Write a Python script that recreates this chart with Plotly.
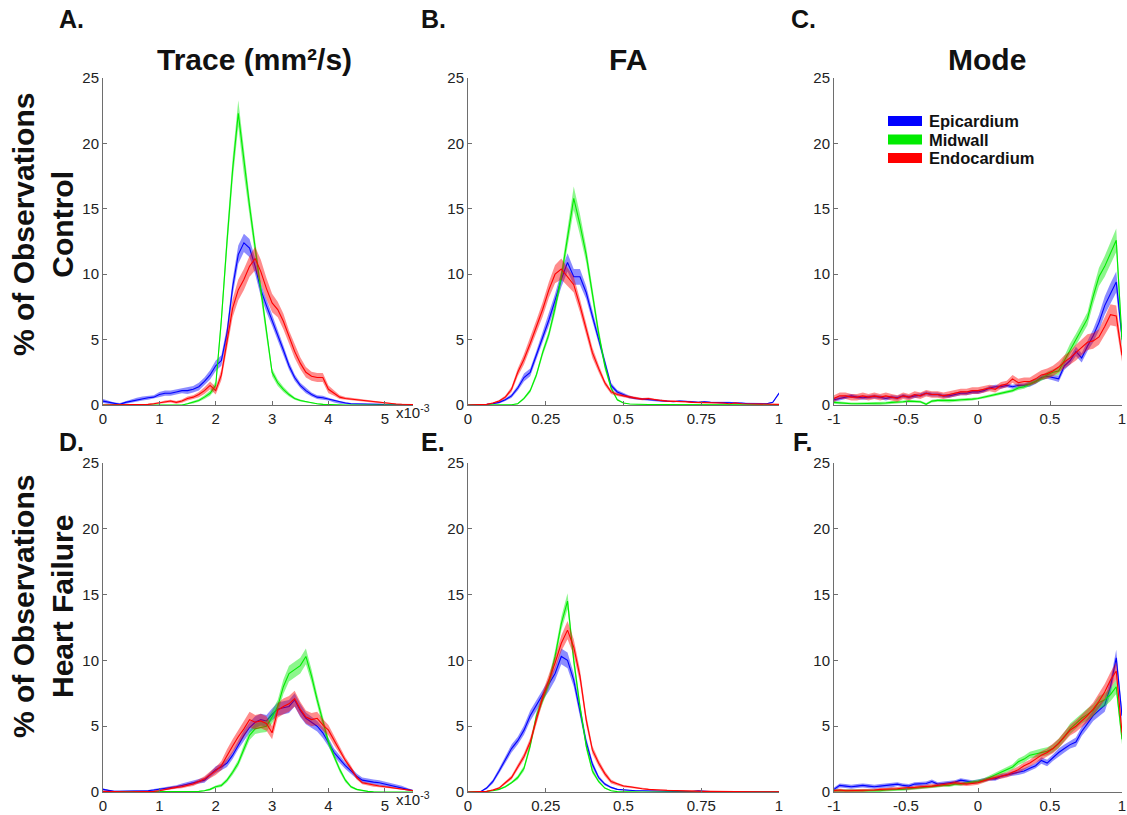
import numpy as np
import plotly.graph_objects as go

# ---------------- data ----------------
trace_bins = [0.0, 0.1, 0.2, 0.3, 0.4, 0.5, 0.6, 0.7, 0.8, 0.9,
              1.0, 1.1, 1.2, 1.3, 1.4, 1.5, 1.6, 1.7, 1.8, 1.9,
              2.0, 2.1, 2.2, 2.3, 2.4, 2.5, 2.6, 2.7, 2.8, 2.9,
              3.0, 3.1, 3.2, 3.3, 3.4, 3.5, 3.6, 3.7, 3.8, 3.9,
              4.0, 4.1, 4.2, 4.3, 4.4, 4.5, 4.6, 4.7, 4.8, 4.9,
              5.0, 5.1, 5.2, 5.3, 5.4, 5.5]  # x10^-3 mm^2/s
fa_bins = [0.00, 0.02, 0.04, 0.06, 0.08, 0.10, 0.12, 0.14, 0.16, 0.18,
           0.20, 0.22, 0.24, 0.26, 0.28, 0.30, 0.32, 0.34, 0.36, 0.38,
           0.40, 0.42, 0.44, 0.46, 0.48, 0.50, 0.52, 0.54, 0.56, 0.58,
           0.60, 0.62, 0.64, 0.66, 0.68, 0.70, 0.72, 0.74, 0.76, 0.78,
           0.80, 0.82, 0.84, 0.86, 0.88, 0.90, 0.92, 0.94, 0.96, 0.98, 1.00]
mode_bins = [-1.00, -0.96, -0.92, -0.88, -0.84, -0.80, -0.76, -0.72, -0.68, -0.64,
             -0.60, -0.56, -0.52, -0.48, -0.44, -0.40, -0.36, -0.32, -0.28, -0.24,
             -0.20, -0.16, -0.12, -0.08, -0.04, 0.00, 0.04, 0.08, 0.12, 0.16,
             0.20, 0.24, 0.28, 0.32, 0.36, 0.40, 0.44, 0.48, 0.52, 0.56,
             0.60, 0.64, 0.68, 0.72, 0.76, 0.80, 0.84, 0.88, 0.92, 0.96, 1.00]

# Panel A: Control, Trace
ctrl_trace_epi = [0.3, 0.2, 0.1, 0.05, 0.2, 0.3, 0.4, 0.5, 0.55, 0.6,
                  0.8, 0.9, 0.9, 1.0, 1.1, 1.1, 1.2, 1.4, 1.8, 2.3,
                  3.0, 3.4, 5.5, 9.0, 11.5, 12.4, 12.0, 10.6, 8.8, 7.6,
                  6.5, 5.4, 4.2, 3.0, 2.1, 1.5, 1.1, 0.8, 0.6, 0.55,
                  0.45, 0.3, 0.2, 0.15, 0.1, 0.1, 0.05, 0.05, 0.05, 0.05,
                  0.03, 0.02, 0.02, 0.01, 0.01, 0.0]
ctrl_trace_epi_se = [0.15, 0.1, 0.1, 0.1, 0.1, 0.15, 0.15, 0.15, 0.15, 0.15,
                     0.2, 0.2, 0.2, 0.2, 0.2, 0.25, 0.25, 0.3, 0.3, 0.35,
                     0.4, 0.4, 0.5, 0.6, 0.7, 0.7, 0.7, 0.6, 0.5, 0.5,
                     0.45, 0.4, 0.35, 0.3, 0.25, 0.2, 0.2, 0.15, 0.15, 0.15,
                     0.1, 0.1, 0.1, 0.08, 0.06, 0.05, 0.05, 0.05, 0.05, 0.05,
                     0.04, 0.03, 0.03, 0.02, 0.02, 0.02]
ctrl_trace_mid = [0, 0, 0, 0, 0, 0, 0, 0, 0, 0,
                  0, 0, 0, 0, 0, 0.1, 0.2, 0.35, 0.6, 0.9,
                  1.5, 6.5, 12.5, 18.0, 22.3, 18.5, 15.2, 12.0, 8.8, 5.5,
                  2.5, 1.7, 1.2, 0.8, 0.5, 0.35, 0.25, 0.15, 0.1, 0.05,
                  0.03, 0, 0, 0, 0, 0, 0, 0, 0, 0,
                  0, 0, 0, 0, 0, 0]
ctrl_trace_mid_se = [0.01, 0.01, 0.01, 0.01, 0.01, 0.01, 0.01, 0.01, 0.01, 0.01,
                     0.01, 0.01, 0.01, 0.01, 0.01, 0.05, 0.08, 0.1, 0.15, 0.2,
                     0.3, 0.6, 0.8, 0.9, 1.0, 0.9, 0.7, 0.6, 0.5, 0.4,
                     0.3, 0.25, 0.2, 0.15, 0.1, 0.08, 0.06, 0.05, 0.04, 0.03,
                     0.02, 0.01, 0.01, 0.01, 0.01, 0.01, 0.01, 0.01, 0.01, 0.01,
                     0.01, 0.01, 0.01, 0.01, 0.01, 0.01]
ctrl_trace_endo = [0, 0, 0, 0, 0, 0, 0, 0.02, 0.05, 0.1,
                   0.15, 0.25, 0.3, 0.2, 0.3, 0.5, 0.6, 0.8, 1.1, 1.5,
                   1.1, 2.3, 5.0, 7.4, 8.8, 9.6, 10.6, 11.2, 10.2, 8.9,
                   7.8, 7.3, 6.4, 5.2, 4.1, 3.2, 2.5, 2.2, 2.1, 2.1,
                   1.2, 0.9, 0.6, 0.5, 0.45, 0.4, 0.35, 0.3, 0.25, 0.2,
                   0.15, 0.1, 0.08, 0.06, 0.05, 0.04]
ctrl_trace_endo_se = [0.02, 0.02, 0.02, 0.02, 0.02, 0.02, 0.02, 0.03, 0.05, 0.06,
                      0.08, 0.1, 0.1, 0.1, 0.12, 0.15, 0.15, 0.2, 0.25, 0.3,
                      0.3, 0.4, 0.6, 0.7, 0.8, 0.8, 0.8, 0.9, 0.9, 0.8,
                      0.7, 0.6, 0.6, 0.5, 0.5, 0.45, 0.4, 0.35, 0.35, 0.35,
                      0.3, 0.2, 0.15, 0.12, 0.1, 0.1, 0.1, 0.08, 0.08, 0.07,
                      0.06, 0.05, 0.04, 0.04, 0.03, 0.03]

# Panel B: Control, FA
ctrl_fa_epi = [0, 0, 0.02, 0.05, 0.1, 0.2, 0.4, 0.7, 1.3, 2.1,
               2.5, 3.8, 5.2, 6.5, 8.0, 9.6, 10.9, 9.8, 9.8, 8.6,
               6.8, 5.0, 3.3, 1.5, 1.0, 0.8, 0.6, 0.5, 0.45, 0.4,
               0.35, 0.3, 0.3, 0.25, 0.3, 0.3, 0.25, 0.2, 0.25, 0.2,
               0.2, 0.15, 0.2, 0.15, 0.15, 0.1, 0.1, 0.1, 0.1, 0.2, 0.9]
ctrl_fa_epi_se = [0.01, 0.01, 0.02, 0.03, 0.05, 0.08, 0.1, 0.15, 0.2, 0.3,
                  0.3, 0.35, 0.4, 0.45, 0.5, 0.6, 0.7, 0.6, 0.6, 0.5,
                  0.45, 0.35, 0.3, 0.2, 0.15, 0.1, 0.1, 0.08, 0.08, 0.08,
                  0.07, 0.07, 0.07, 0.06, 0.06, 0.06, 0.06, 0.05, 0.05, 0.05,
                  0.05, 0.05, 0.05, 0.04, 0.04, 0.04, 0.04, 0.04, 0.04, 0.05, 0.1]
ctrl_fa_mid = [0, 0, 0, 0, 0, 0, 0, 0.02, 0.1, 0.5,
               1.1, 2.3, 4.0, 5.4, 7.4, 9.8, 12.8, 15.8, 13.8, 11.5,
               8.5, 5.5, 3.0, 1.3, 0.4, 0.15, 0.08, 0.05, 0.05, 0.04,
               0.03, 0.03, 0.02, 0.02, 0.02, 0.02, 0.02, 0.02, 0.01, 0.01,
               0.01, 0.01, 0.01, 0.01, 0.01, 0.01, 0.01, 0.01, 0.01, 0.01, 0.01]
ctrl_fa_mid_se = [0.01, 0.01, 0.01, 0.01, 0.01, 0.01, 0.01, 0.02, 0.05, 0.1,
                  0.15, 0.2, 0.25, 0.3, 0.4, 0.5, 0.7, 0.9, 0.8, 0.6,
                  0.5, 0.4, 0.3, 0.15, 0.08, 0.04, 0.01, 0.01, 0.01, 0.01,
                  0.01, 0.01, 0.01, 0.01, 0.01, 0.01, 0.01, 0.01, 0.01, 0.01,
                  0.01, 0.01, 0.01, 0.01, 0.01, 0.01, 0.01, 0.01, 0.01, 0.01, 0.01]
ctrl_fa_endo = [0, 0, 0.02, 0.05, 0.15, 0.3, 0.6, 1.2, 2.5, 3.5,
                4.7, 6.0, 7.3, 8.8, 10.0, 10.4, 9.8, 9.2, 7.6, 5.8,
                4.0, 2.8, 1.7, 1.0, 0.8, 0.7, 0.6, 0.5, 0.45, 0.5,
                0.4, 0.35, 0.3, 0.3, 0.25, 0.25, 0.2, 0.2, 0.2, 0.15,
                0.15, 0.15, 0.1, 0.15, 0.1, 0.1, 0.1, 0.08, 0.08, 0.06, 0.05]
ctrl_fa_endo_se = [0.01, 0.01, 0.02, 0.03, 0.05, 0.08, 0.12, 0.2, 0.3, 0.4,
                   0.45, 0.5, 0.55, 0.6, 0.7, 0.8, 0.7, 0.6, 0.5, 0.45,
                   0.4, 0.3, 0.2, 0.15, 0.12, 0.1, 0.1, 0.08, 0.08, 0.08,
                   0.07, 0.07, 0.06, 0.06, 0.05, 0.05, 0.05, 0.05, 0.05, 0.04,
                   0.04, 0.04, 0.03, 0.04, 0.03, 0.03, 0.03, 0.03, 0.03, 0.02, 0.02]

# Panel C: Control, Mode
ctrl_mode_epi = [0.4, 0.5, 0.6, 0.7, 0.6, 0.55, 0.6, 0.65, 0.6, 0.5,
                 0.6, 0.55, 0.7, 0.6, 0.7, 0.75, 0.9, 0.8, 0.8, 0.7,
                 0.7, 0.8, 0.9, 0.9, 1.0, 1.0, 1.1, 1.3, 1.4, 1.4,
                 1.5, 1.4, 1.5, 1.5, 1.6, 1.8, 2.1, 2.2, 2.1, 2.0,
                 3.0, 3.4, 4.1, 3.6, 4.5, 5.3, 6.3, 7.6, 8.5, 9.4, 5.2]
ctrl_mode_epi_se = [0.15, 0.15, 0.15, 0.15, 0.15, 0.15, 0.15, 0.15, 0.15, 0.15,
                    0.15, 0.15, 0.15, 0.15, 0.15, 0.15, 0.15, 0.15, 0.15, 0.15,
                    0.15, 0.15, 0.15, 0.15, 0.15, 0.15, 0.15, 0.15, 0.15, 0.15,
                    0.15, 0.15, 0.15, 0.15, 0.2, 0.2, 0.2, 0.2, 0.2, 0.25,
                    0.3, 0.3, 0.35, 0.35, 0.4, 0.5, 0.6, 0.7, 0.8, 0.8, 0.6]
ctrl_mode_mid = [0.2, 0.15, 0.1, 0.1, 0.1, 0.1, 0.1, 0.1, 0.1, 0.15,
                 0.2, 0.2, 0.25, 0.3, 0.3, 0.25, 0.05, 0.3, 0.35, 0.35,
                 0.3, 0.35, 0.4, 0.4, 0.45, 0.5, 0.6, 0.7, 0.8, 0.9,
                 1.0, 1.1, 1.3, 1.4, 1.6, 1.8, 2.0, 2.3, 2.5, 2.6,
                 3.4, 4.3, 5.0, 5.8, 6.6, 8.3, 9.8, 10.6, 11.6, 12.6, 5.0]
ctrl_mode_mid_se = [0.1, 0.1, 0.1, 0.1, 0.1, 0.1, 0.1, 0.1, 0.1, 0.1,
                    0.1, 0.1, 0.1, 0.1, 0.1, 0.1, 0.1, 0.1, 0.1, 0.1,
                    0.1, 0.1, 0.1, 0.1, 0.1, 0.1, 0.1, 0.1, 0.1, 0.1,
                    0.12, 0.12, 0.15, 0.15, 0.2, 0.2, 0.2, 0.25, 0.25, 0.3,
                    0.35, 0.4, 0.45, 0.5, 0.5, 0.6, 0.7, 0.8, 0.8, 0.9, 0.6]
ctrl_mode_endo = [0.5, 0.7, 0.7, 0.6, 0.6, 0.7, 0.6, 0.7, 0.6, 0.7,
                  0.6, 0.5, 0.7, 0.6, 0.8, 0.7, 0.9, 0.8, 0.8, 0.7,
                  0.8, 0.9, 1.0, 1.0, 1.1, 1.1, 1.2, 1.3, 1.2, 1.5,
                  1.6, 2.0, 1.7, 1.8, 1.8, 2.0, 2.3, 2.4, 2.6, 2.9,
                  3.3, 3.6, 4.0, 4.4, 4.8, 4.9, 5.2, 6.0, 6.9, 6.8, 3.8]
ctrl_mode_endo_se = [0.25, 0.25, 0.25, 0.25, 0.25, 0.25, 0.25, 0.25, 0.25, 0.25,
                     0.25, 0.25, 0.25, 0.25, 0.25, 0.25, 0.25, 0.25, 0.25, 0.25,
                     0.25, 0.25, 0.25, 0.25, 0.25, 0.25, 0.25, 0.25, 0.25, 0.25,
                     0.25, 0.3, 0.3, 0.3, 0.3, 0.35, 0.35, 0.4, 0.4, 0.45,
                     0.5, 0.5, 0.6, 0.6, 0.6, 0.6, 0.6, 0.7, 0.8, 0.8, 0.5]

# Panel D: Heart failure, Trace
hf_trace_epi = [0.2, 0.1, 0.05, 0.05, 0.05, 0.05, 0.05, 0.05, 0.1, 0.15,
                0.2, 0.25, 0.35, 0.4, 0.5, 0.6, 0.7, 0.8, 0.9, 1.3,
                1.7, 1.9, 2.2, 2.8, 3.6, 4.3, 4.9, 5.3, 5.5, 5.4,
                5.9, 6.3, 6.4, 6.5, 7.0, 6.2, 5.6, 5.3, 5.0, 4.5,
                3.8, 3.0, 2.5, 2.0, 1.6, 1.2, 0.9, 0.8, 0.75, 0.7,
                0.6, 0.5, 0.45, 0.35, 0.2, 0.1]
hf_trace_epi_se = [0.08, 0.05, 0.05, 0.05, 0.05, 0.05, 0.05, 0.05, 0.05, 0.08,
                   0.1, 0.1, 0.12, 0.12, 0.15, 0.15, 0.15, 0.15, 0.2, 0.2,
                   0.25, 0.25, 0.3, 0.3, 0.35, 0.4, 0.4, 0.45, 0.45, 0.45,
                   0.45, 0.5, 0.5, 0.5, 0.5, 0.5, 0.45, 0.45, 0.4, 0.4,
                   0.35, 0.3, 0.3, 0.25, 0.25, 0.2, 0.2, 0.2, 0.2, 0.2,
                   0.2, 0.15, 0.15, 0.12, 0.1, 0.05]
hf_trace_mid = [0, 0, 0, 0, 0, 0, 0, 0, 0, 0,
                0, 0, 0, 0, 0, 0, 0, 0.05, 0.1, 0.2,
                0.4, 0.5, 0.9, 1.5, 2.2, 3.3, 4.3, 4.8, 4.9, 5.0,
                5.7, 6.5, 8.0, 9.0, 9.3, 9.6, 10.3, 8.8, 7.0, 5.3,
                3.8, 2.7, 1.7, 0.9, 0.4, 0.2, 0.1, 0.05, 0.02, 0.01,
                0, 0, 0, 0, 0, 0]
hf_trace_mid_se = [0.01, 0.01, 0.01, 0.01, 0.01, 0.01, 0.01, 0.01, 0.01, 0.01,
                   0.01, 0.01, 0.01, 0.01, 0.01, 0.01, 0.01, 0.03, 0.05, 0.08,
                   0.1, 0.12, 0.15, 0.2, 0.25, 0.3, 0.35, 0.4, 0.4, 0.45,
                   0.5, 0.5, 0.55, 0.6, 0.6, 0.6, 0.6, 0.5, 0.45, 0.4,
                   0.3, 0.25, 0.2, 0.15, 0.1, 0.06, 0.04, 0.03, 0.02, 0.01,
                   0.01, 0.01, 0.01, 0.01, 0.01, 0.01]
hf_trace_endo = [0.05, 0.03, 0.02, 0.02, 0.02, 0.02, 0.02, 0.03, 0.05, 0.05,
                 0.1, 0.2, 0.3, 0.35, 0.4, 0.5, 0.6, 0.8, 1.0, 1.3,
                 1.6, 2.0, 2.8, 3.5, 4.2, 4.8, 5.5, 5.3, 5.4, 5.2,
                 4.5, 6.2, 6.5, 6.7, 7.1, 6.3, 5.7, 5.5, 5.6, 5.1,
                 4.7, 3.9, 3.1, 2.4, 1.8, 1.1, 0.7, 0.6, 0.5, 0.45,
                 0.4, 0.35, 0.25, 0.2, 0.15, 0.1]
hf_trace_endo_se = [0.03, 0.02, 0.02, 0.02, 0.02, 0.02, 0.02, 0.02, 0.03, 0.03,
                    0.05, 0.08, 0.1, 0.1, 0.12, 0.12, 0.15, 0.15, 0.2, 0.25,
                    0.3, 0.35, 0.45, 0.5, 0.55, 0.6, 0.6, 0.55, 0.55, 0.55,
                    0.5, 0.55, 0.6, 0.6, 0.6, 0.55, 0.5, 0.5, 0.5, 0.45,
                    0.4, 0.35, 0.3, 0.25, 0.2, 0.15, 0.12, 0.1, 0.1, 0.08,
                    0.08, 0.07, 0.06, 0.05, 0.04, 0.03]

# Panel E: Heart failure, FA
hf_fa_epi = [0, 0, 0.02, 0.3, 0.8, 1.6, 2.4, 3.3, 3.9, 4.7,
             5.8, 6.6, 7.4, 8.1, 9.0, 10.3, 10.0, 8.5, 6.2, 3.8,
             2.1, 1.1, 0.6, 0.35, 0.2, 0.15, 0.12, 0.1, 0.1, 0.08,
             0.08, 0.06, 0.05, 0.05, 0.05, 0.04, 0.04, 0.1, 0.04, 0.03,
             0.03, 0.03, 0.03, 0.05, 0.03, 0.03, 0.02, 0.02, 0.02, 0.02, 0.02]
hf_fa_epi_se = [0.01, 0.01, 0.02, 0.1, 0.15, 0.2, 0.25, 0.3, 0.3, 0.35,
                0.4, 0.4, 0.45, 0.45, 0.5, 0.6, 0.6, 0.5, 0.45, 0.35,
                0.25, 0.15, 0.1, 0.06, 0.04, 0.03, 0.03, 0.02, 0.02, 0.02,
                0.02, 0.02, 0.02, 0.02, 0.02, 0.02, 0.02, 0.03, 0.02, 0.02,
                0.02, 0.02, 0.02, 0.02, 0.02, 0.02, 0.02, 0.02, 0.02, 0.02, 0.02]
hf_fa_mid = [0, 0, 0, 0.05, 0.1, 0.2, 0.4, 0.7, 1.1, 1.8,
             3.5, 5.8, 7.0, 8.3, 10.3, 12.8, 14.5, 10.0, 6.5, 3.5,
             1.6, 0.8, 0.3, 0.1, 0.03, 0.01, 0, 0, 0, 0,
             0, 0, 0, 0, 0, 0, 0, 0, 0, 0,
             0, 0, 0, 0, 0, 0, 0, 0, 0, 0, 0]
hf_fa_mid_se = [0.01, 0.01, 0.01, 0.02, 0.03, 0.05, 0.08, 0.1, 0.15, 0.2,
                0.25, 0.3, 0.35, 0.4, 0.45, 0.5, 0.6, 0.5, 0.4, 0.3,
                0.2, 0.1, 0.05, 0.03, 0.01, 0.01, 0.01, 0.01, 0.01, 0.01,
                0.01, 0.01, 0.01, 0.01, 0.01, 0.01, 0.01, 0.01, 0.01, 0.01,
                0.01, 0.01, 0.01, 0.01, 0.01, 0.01, 0.01, 0.01, 0.01, 0.01, 0.01]
hf_fa_endo = [0, 0, 0.02, 0.05, 0.15, 0.3, 0.7, 1.1, 1.9, 2.7,
              3.8, 5.5, 7.2, 8.5, 9.8, 11.3, 12.3, 11.0, 8.8, 5.5,
              3.2, 2.2, 1.4, 0.8, 0.6, 0.45, 0.4, 0.3, 0.25, 0.2,
              0.15, 0.15, 0.12, 0.1, 0.1, 0.08, 0.08, 0.06, 0.05, 0.05,
              0.04, 0.04, 0.03, 0.03, 0.03, 0.02, 0.02, 0.02, 0.02, 0.02, 0.02]
hf_fa_endo_se = [0.01, 0.01, 0.02, 0.03, 0.05, 0.08, 0.12, 0.15, 0.2, 0.25,
                 0.3, 0.35, 0.4, 0.45, 0.5, 0.6, 0.7, 0.6, 0.5, 0.4,
                 0.3, 0.25, 0.2, 0.15, 0.1, 0.08, 0.07, 0.06, 0.05, 0.05,
                 0.04, 0.04, 0.04, 0.03, 0.03, 0.03, 0.03, 0.02, 0.02, 0.02,
                 0.02, 0.02, 0.02, 0.02, 0.02, 0.02, 0.02, 0.02, 0.02, 0.02, 0.02]

# Panel F: Heart failure, Mode
hf_mode_epi = [0.2, 0.5, 0.45, 0.4, 0.45, 0.5, 0.45, 0.4, 0.45, 0.5,
               0.5, 0.6, 0.5, 0.45, 0.6, 0.6, 0.65, 0.8, 0.6, 0.65,
               0.7, 0.75, 0.9, 0.8, 0.75, 0.8, 0.9, 1.0, 1.0, 1.2,
               1.3, 1.4, 1.5, 1.6, 1.8, 2.0, 2.4, 2.2, 2.6, 3.0,
               3.3, 3.6, 3.8, 4.6, 5.2, 5.8, 6.2, 6.6, 8.0, 10.2, 5.8]
hf_mode_epi_se = [0.15, 0.15, 0.15, 0.15, 0.15, 0.15, 0.15, 0.15, 0.15, 0.15,
                  0.15, 0.15, 0.15, 0.15, 0.15, 0.15, 0.15, 0.15, 0.15, 0.15,
                  0.15, 0.15, 0.15, 0.15, 0.15, 0.15, 0.15, 0.15, 0.15, 0.15,
                  0.15, 0.15, 0.2, 0.2, 0.2, 0.2, 0.25, 0.25, 0.25, 0.3,
                  0.3, 0.3, 0.35, 0.35, 0.4, 0.4, 0.45, 0.5, 0.55, 0.6, 0.5]
hf_mode_mid = [0.1, 0.1, 0.05, 0.05, 0.05, 0.05, 0.05, 0.1, 0.1, 0.15,
               0.15, 0.2, 0.2, 0.25, 0.3, 0.3, 0.35, 0.4, 0.45, 0.5,
               0.5, 0.6, 0.6, 0.7, 0.75, 0.8, 0.9, 1.1, 1.3, 1.5,
               1.7, 1.9, 2.3, 2.5, 2.8, 2.9, 3.0, 3.1, 3.3, 3.7,
               4.2, 4.8, 5.2, 5.6, 5.9, 6.2, 6.8, 7.0, 7.4, 8.0, 4.0]
hf_mode_mid_se = [0.1, 0.1, 0.1, 0.1, 0.1, 0.1, 0.1, 0.1, 0.1, 0.1,
                  0.1, 0.1, 0.1, 0.1, 0.1, 0.1, 0.1, 0.1, 0.1, 0.1,
                  0.12, 0.12, 0.12, 0.12, 0.12, 0.15, 0.15, 0.15, 0.15, 0.2,
                  0.2, 0.2, 0.25, 0.25, 0.25, 0.3, 0.3, 0.3, 0.3, 0.35,
                  0.35, 0.4, 0.4, 0.4, 0.45, 0.45, 0.5, 0.5, 0.5, 0.55, 0.4]
hf_mode_endo = [0.1, 0.15, 0.1, 0.1, 0.1, 0.1, 0.15, 0.15, 0.2, 0.2,
                0.25, 0.25, 0.3, 0.3, 0.35, 0.4, 0.4, 0.45, 0.5, 0.55,
                0.6, 0.7, 0.65, 0.6, 0.65, 0.7, 0.85, 1.0, 1.1, 1.2,
                1.3, 1.5, 1.7, 2.0, 2.2, 2.5, 2.8, 3.0, 3.3, 3.7,
                4.2, 4.7, 5.0, 5.4, 5.8, 6.3, 6.9, 7.6, 8.5, 9.2, 4.5]
hf_mode_endo_se = [0.1, 0.1, 0.1, 0.1, 0.1, 0.1, 0.1, 0.1, 0.1, 0.1,
                   0.12, 0.12, 0.12, 0.12, 0.12, 0.12, 0.12, 0.12, 0.12, 0.12,
                   0.15, 0.15, 0.15, 0.15, 0.15, 0.15, 0.15, 0.15, 0.15, 0.2,
                   0.2, 0.2, 0.25, 0.25, 0.25, 0.3, 0.3, 0.3, 0.35, 0.35,
                   0.4, 0.4, 0.45, 0.45, 0.5, 0.5, 0.55, 0.6, 0.6, 0.65, 0.5]

series_names = ["Epicardium", "Midwall", "Endocardium"]
col_titles = ["Trace (mm\u00b2/s)", "FA", "Mode"]
row_titles = ["Control", "Heart Failure"]
panel_letters = ["A.", "B.", "C.", "D.", "E.", "F."]

# ---------------- style ----------------
FONT = "Liberation Sans, Arial, sans-serif"
line_cols = ["rgb(0,0,255)", "rgb(0,235,0)", "rgb(255,0,0)"]
fill_cols = ["rgba(0,0,255,0.45)", "rgba(0,235,0,0.45)", "rgba(255,0,0,0.45)"]
W, H = 1127, 815

def px_x(p):
    return p / W

def px_y(p):
    return 1 - p / H

col_dom = [(103, 413), (468, 779), (834, 1122)]
row_dom = [(78, 405), (463, 792)]

panels = [
    (trace_bins, [(ctrl_trace_epi, ctrl_trace_epi_se), (ctrl_trace_mid, ctrl_trace_mid_se), (ctrl_trace_endo, ctrl_trace_endo_se)]),
    (fa_bins, [(ctrl_fa_epi, ctrl_fa_epi_se), (ctrl_fa_mid, ctrl_fa_mid_se), (ctrl_fa_endo, ctrl_fa_endo_se)]),
    (mode_bins, [(ctrl_mode_epi, ctrl_mode_epi_se), (ctrl_mode_mid, ctrl_mode_mid_se), (ctrl_mode_endo, ctrl_mode_endo_se)]),
    (trace_bins, [(hf_trace_epi, hf_trace_epi_se), (hf_trace_mid, hf_trace_mid_se), (hf_trace_endo, hf_trace_endo_se)]),
    (fa_bins, [(hf_fa_epi, hf_fa_epi_se), (hf_fa_mid, hf_fa_mid_se), (hf_fa_endo, hf_fa_endo_se)]),
    (mode_bins, [(hf_mode_epi, hf_mode_epi_se), (hf_mode_mid, hf_mode_mid_se), (hf_mode_endo, hf_mode_endo_se)]),
]
x_ranges = [[0, 5.5], [0, 1], [-1, 1]]
x_ticks = [[0, 1, 2, 3, 4, 5], [0, 0.25, 0.5, 0.75, 1], [-1, -0.5, 0, 0.5, 1]]
x_ticktext = [["0", "1", "2", "3", "4", "5"], ["0", "0.25", "0.5", "0.75", "1"], ["-1", "-0.5", "0", "0.5", "1"]]

fig = go.Figure()
layout = dict(
    width=W, height=H, margin=dict(l=0, r=0, t=0, b=0, autoexpand=False),
    paper_bgcolor="white", plot_bgcolor="white",
    font=dict(family=FONT, size=15, color="#222"),
    showlegend=False,
)

for k, (bins, triple) in enumerate(panels):
    r, c = divmod(k, 3)
    idx = "" if k == 0 else str(k + 1)
    xa, ya = "x" + idx, "y" + idx
    x = np.array(bins, dtype=float)
    for s, (m, se) in enumerate(triple):
        m = np.array(m, dtype=float)
        se = np.array(se, dtype=float)
        hi = m + se
        lo = np.clip(m - se, 0, None)
        fig.add_trace(go.Scatter(
            x=np.concatenate([x, x[::-1]]), y=np.concatenate([hi, lo[::-1]]),
            fill="toself", fillcolor=fill_cols[s], line=dict(width=0),
            mode="lines", hoverinfo="skip", showlegend=False, xaxis=xa, yaxis=ya))
        fig.add_trace(go.Scatter(
            x=x, y=m, mode="lines", line=dict(color=line_cols[s], width=1.1),
            showlegend=False, xaxis=xa, yaxis=ya, name=series_names[s]))
    axis_common = dict(showline=True, linecolor="#6e6e6e", linewidth=1, ticks="inside",
                       ticklen=4, tickcolor="#6e6e6e", showgrid=False, zeroline=False,
                       automargin=False,
                       tickfont=dict(family=FONT, size=15, color="#222"))
    layout["xaxis" + idx] = dict(axis_common, domain=[px_x(col_dom[c][0]), px_x(col_dom[c][1])],
                                 range=x_ranges[c], tickvals=x_ticks[c], ticktext=x_ticktext[c],
                                 anchor=ya)
    layout["yaxis" + idx] = dict(axis_common, domain=[px_y(row_dom[r][1]), px_y(row_dom[r][0])],
                                 range=[0, 25], tickvals=[0, 5, 10, 15, 20, 25], anchor=xa)

ann = []
shapes = []
# legend (drawn in panel C)
legend_rows = [121, 139.5, 158]
for s, name in enumerate(series_names):
    yc = legend_rows[s]
    shapes.append(dict(type="rect", xref="paper", yref="paper",
                       x0=px_x(888), x1=px_x(922), y0=px_y(yc + 5), y1=px_y(yc - 5),
                       fillcolor=line_cols[s], line=dict(width=0)))
    ann.append(dict(text="<b>" + name + "</b>", x=px_x(927), y=px_y(yc), xref="paper", yref="paper",
                    showarrow=False, font=dict(family=FONT, size=16.5, color="#111"),
                    xanchor="left", yanchor="middle"))
# column titles
title_cx = [255, 628, 987]
for c, t in enumerate(col_titles):
    ann.append(dict(text="<b>" + t + "</b>", x=px_x(title_cx[c]), y=px_y(59), xref="paper", yref="paper",
                    showarrow=False, font=dict(family=FONT, size=30, color="#111"),
                    xanchor="center", yanchor="middle"))
# panel letters
letter_pos = [(57, 19), (419, 19), (789, 19), (57, 442), (419, 442), (791, 442)]
for L, (lx, ly) in zip(panel_letters, letter_pos):
    ann.append(dict(text="<b>" + L + "</b>", x=px_x(lx), y=px_y(ly), xref="paper", yref="paper",
                    showarrow=False, font=dict(family=FONT, size=25, color="#111"),
                    xanchor="left", yanchor="middle"))
# row labels
row_cy = [225, 607]
for r, t in enumerate(row_titles):
    ann.append(dict(text="<b>% of Observations<br>" + t + "</b>", x=px_x(43), y=px_y(row_cy[r]),
                    xref="paper", yref="paper", showarrow=False, textangle=-90,
                    font=dict(family=FONT, size=30, color="#111"),
                    xanchor="center", yanchor="middle"))
# x10^-3 exponent labels
for r in range(2):
    ann.append(dict(text="x10<sup>-3</sup>", x=px_x(394), y=px_y(row_dom[r][1] + 6),
                    xref="paper", yref="paper", showarrow=False,
                    font=dict(family=FONT, size=15, color="#222"),
                    xanchor="left", yanchor="middle"))
layout["annotations"] = ann
layout["shapes"] = shapes

fig.update_layout(**layout)
fig.write_html("out.html")
